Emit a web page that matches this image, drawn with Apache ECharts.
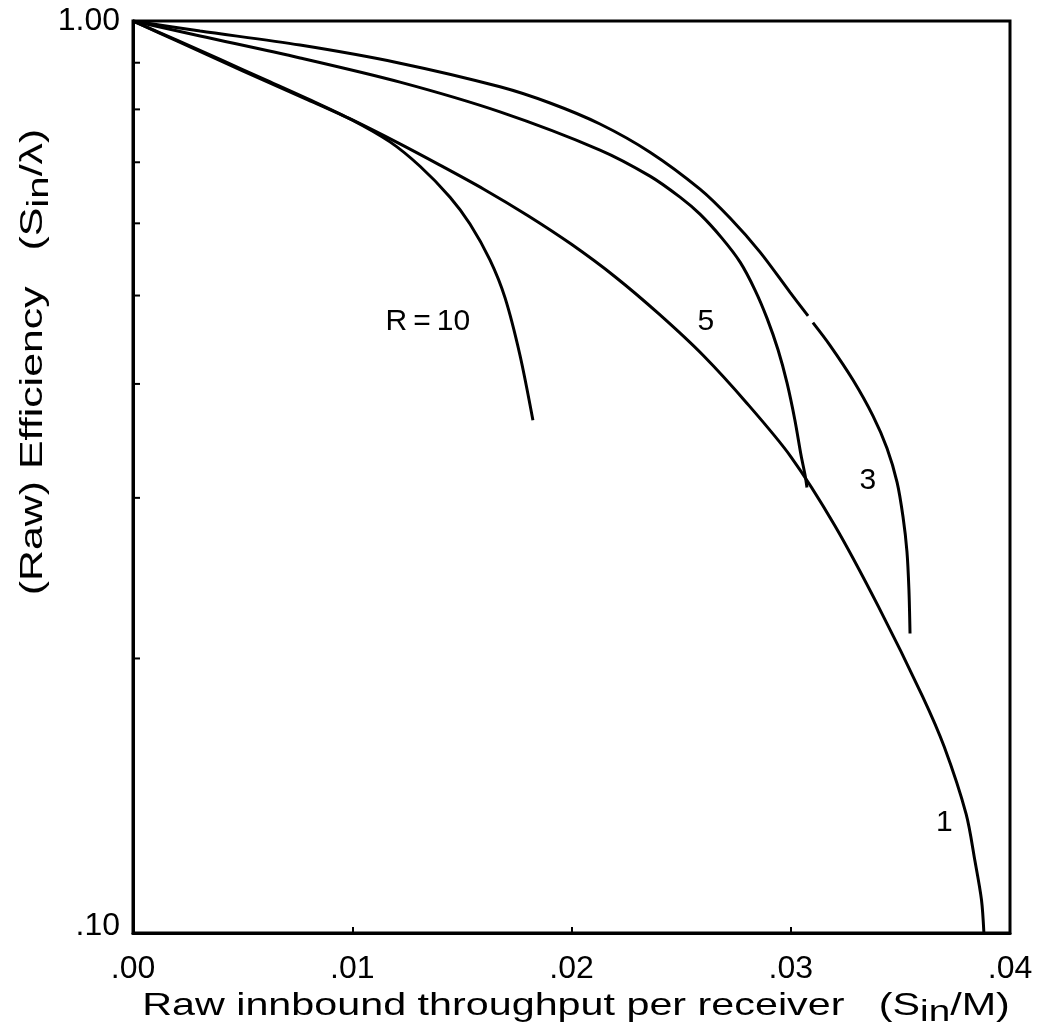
<!DOCTYPE html>
<html>
<head>
<meta charset="utf-8">
<style>
  html, body { margin: 0; padding: 0; background: #fff; }
  #chart { width: 1042px; height: 1029px; }
</style>
<script src="https://cdn.jsdelivr.net/npm/echarts@6/dist/echarts.min.js"></script>
</head>
<body>
<div id="chart"></div>
<script>
// ---------- data ----------
const xTickLabels = ['.00', '.01', '.02', '.03', '.04'];
const yEndLabels = { top: '1.00', bottom: '.10' };
const yMinorTicks = [0.2, 0.3, 0.4, 0.5, 0.6, 0.7, 0.8, 0.9];

// R = 1
const r1X = [0, 0.002, 0.004, 0.006, 0.008, 0.010, 0.012, 0.014, 0.016, 0.018, 0.020, 0.022, 0.024, 0.026, 0.028, 0.030, 0.032, 0.034, 0.036, 0.037, 0.038, 0.0384, 0.0387, 0.03881];
const r1Y = [1.0, 0.951, 0.904, 0.860, 0.819, 0.779, 0.737, 0.695, 0.654, 0.612, 0.569, 0.524, 0.477, 0.430, 0.381, 0.333, 0.280, 0.228, 0.182, 0.160, 0.135, 0.120, 0.1087, 0.100];

// R = 3 (small break near .031)
const r3X = [0, 0.00306, 0.00762, 0.01218, 0.01674, 0.01902, 0.0213, 0.02358, 0.02586, 0.02723, 0.0286, 0.02997, 0.03079, null, 0.03101, 0.03179, 0.03284, 0.03375, 0.03439, 0.03485, 0.03512, 0.0353, 0.03539, 0.03544];
const r3Y = [1.0, 0.975, 0.941, 0.899, 0.847, 0.813, 0.771, 0.718, 0.654, 0.608, 0.558, 0.504, 0.475, null, 0.467, 0.441, 0.404, 0.369, 0.340, 0.312, 0.286, 0.262, 0.238, 0.213];

// R = 5
const r5X = [0, 0.00306, 0.00762, 0.01218, 0.01674, 0.0213, 0.02358, 0.02495, 0.02586, 0.02686, 0.02769, 0.02837, 0.02892, 0.02942, 0.02983, 0.03019, 0.03047, 0.03065, 0.03074];
const r5Y = [1.0, 0.963, 0.911, 0.857, 0.795, 0.722, 0.676, 0.641, 0.614, 0.578, 0.544, 0.507, 0.472, 0.436, 0.401, 0.365, 0.334, 0.318, 0.308];

// R = 10
const r10X = [0, 0.002, 0.004, 0.006, 0.008, 0.00999, 0.01172, 0.01309, 0.01446, 0.01537, 0.01628, 0.01697, 0.01765, 0.01824];
const r10Y = [1.0, 0.953, 0.907, 0.863, 0.821, 0.779, 0.737, 0.693, 0.641, 0.599, 0.547, 0.497, 0.430, 0.365];

// curve labels
const curveLabelText = ['R\u2009=\u200910', '5', '3', '1'];
const curveLabelX = [0.01345, 0.02613, 0.03352, 0.0370];
const curveLabelY = [0.468, 0.468, 0.313, 0.132];

// ---------- helpers ----------
function pairs(xs, ys) {
  return xs.map((x, i) => (x === null ? [null, null] : [x, ys[i]]));
}
function curve(name, xs, ys) {
  return {
    name: name,
    type: 'line',
    data: pairs(xs, ys),
    showSymbol: false,
    symbol: 'none',
    smooth: 0.3,
    connectNulls: false,
    lineStyle: { color: '#000', width: 3 },
    silent: true,
    z: 3
  };
}

const FONT = '"Liberation Sans", Arial, Helvetica, sans-serif';
const chart = echarts.init(document.getElementById('chart'), null, { renderer: 'canvas' });

const option = {
  animation: false,
  backgroundColor: '#fff',
  textStyle: { fontFamily: FONT, color: '#000' },
  grid: {
    left: 133, right: 32, top: 21, bottom: 96,
    containLabel: false,
    outerBoundsMode: 'none',
    show: true, borderColor: '#000', borderWidth: 3, backgroundColor: 'transparent'
  },
  xAxis: {
    type: 'value',
    min: 0, max: 0.04, interval: 0.01,
    axisLine: { show: true, lineStyle: { color: '#000', width: 3 } },
    axisTick: { show: true, inside: true, length: 6, lineStyle: { color: '#000', width: 2 } },
    splitLine: { show: false },
    axisLabel: {
      margin: 20,
      fontSize: 32,
      color: '#000',
      fontFamily: FONT,
      formatter: function (v) { return xTickLabels[Math.round(v / 0.01)]; }
    }
  },
  yAxis: {
    type: 'log',
    logBase: 10,
    min: 0.1, max: 1,
    axisLine: { show: true, lineStyle: { color: '#000', width: 3 } },
    axisTick: { show: false },
    splitLine: { show: false },
    axisLabel: {
      margin: 13,
      color: '#000',
      fontFamily: FONT,
      fontSize: 32,
      formatter: function (v) {
        return Math.abs(v - 1) < 1e-6 ? '{hi|' + yEndLabels.top + '}' : '{lo|' + yEndLabels.bottom + '}';
      },
      rich: {
        hi: { fontSize: 32, fontFamily: FONT, color: '#000' },
        lo: { fontSize: 32, fontFamily: FONT, color: '#000', padding: [0, 0, 14, 0] }
      }
    }
  },
  graphic: [
    {
      type: 'text',
      x: 576, y: 1006,
      scaleX: 1.29,
      silent: true,
      style: {
        x: 0, y: 0,
        text: '{t|Raw innbound throughput per receiver   (S}{sub|in}{t|/M)}',
        textAlign: 'center',
        textVerticalAlign: 'middle',
        rich: {
          t: { fontSize: 32, fontFamily: FONT, fill: '#000' },
          sub: { fontSize: 30, fontFamily: FONT, fill: '#000', padding: [13, 0, 0, 0] }
        }
      }
    },
    {
      type: 'text',
      x: 33, y: 362,
      rotation: Math.PI / 2,
      scaleX: 1.34,
      silent: true,
      style: {
        x: 0, y: 0,
        text: '{t|(Raw) Efficiency   (S}{sub|in}{t|/λ)}',
        textAlign: 'center',
        textVerticalAlign: 'middle',
        rich: {
          t: { fontSize: 32, fontFamily: FONT, fill: '#000' },
          sub: { fontSize: 30, fontFamily: FONT, fill: '#000', padding: [13, 0, 0, 0] }
        }
      }
    }
  ],
  series: [
    curve('R1', r1X, r1Y),
    curve('R3', r3X, r3Y),
    curve('R5', r5X, r5Y),
    curve('R10', r10X, r10Y),
    {
      type: 'custom',
      silent: true,
      data: yMinorTicks.map(v => [0, v]),
      renderItem: function (params, api) {
        const p = api.coord([0, api.value(1)]);
        return {
          type: 'line',
          shape: { x1: p[0], y1: p[1], x2: p[0] + 7, y2: p[1] },
          style: { stroke: '#000', lineWidth: 2 }
        };
      },
      z: 4
    },
    {
      type: 'scatter',
      silent: true,
      symbolSize: 0,
      itemStyle: { opacity: 1, color: '#000' },
      data: curveLabelX.map((x, i) => ({ value: [x, curveLabelY[i]], name: curveLabelText[i] })),
      label: {
        show: true,
        position: 'inside',
        formatter: '{b}',
        fontSize: 30,
        fontFamily: FONT,
        color: '#000',
        opacity: 1,
        textBorderWidth: 0
      },
      emphasis: { disabled: true },
      z: 5
    }
  ]
};
chart.setOption(option);
</script>
</body>
</html>
